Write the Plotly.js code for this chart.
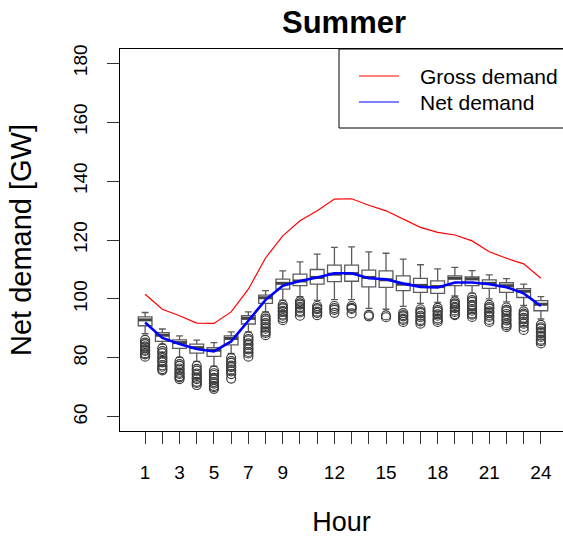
<!DOCTYPE html>
<html>
<head>
<meta charset="utf-8">
<script src="https://cdn.plot.ly/plotly-3.0.1.min.js"></script>
<style>
  html, body { margin: 0; padding: 0; background: #ffffff; }
  #chart { width: 563px; height: 538px; }
</style>
</head>
<body>
<div id="chart"></div>
<script>
// Hour of day
const hours = [1,2,3,4,5,6,7,8,9,10,11,12,13,14,15,16,17,18,19,20,21,22,23,24];

// Hourly labels shown on the x axis (others left blank)
const hourLabels = ['1','','3','','5','','7','','9','','','12','','','15','','','18','','','21','','','24'];

// Box statistics of summer net demand per hour [GW]
const upperWhisker = [95.4,89.8,87.5,86.0,85.2,88.8,95.6,102.8,109.5,112.6,115.2,117.5,117.7,116.0,115.5,113.5,111.6,110.2,110.7,109.6,108.2,106.9,105.0,100.8];
const q3           = [93.9,88.6,86.1,84.7,83.5,87.5,94.3,101.3,106.7,108.4,110.0,111.5,111.5,109.8,109.5,107.8,107.0,106.1,107.8,107.5,106.5,105.5,103.5,99.4];
const median       = [92.9,87.7,85.2,83.5,82.6,86.6,93.4,100.4,105.3,106.1,107.3,108.4,108.6,107.3,106.5,105.0,104.6,104.2,107.0,106.8,105.3,104.5,102.6,98.2];
const q1           = [90.9,85.6,83.2,81.6,80.5,84.4,91.5,98.5,103.3,104.5,105.0,105.9,106.0,104.1,103.9,102.8,102.2,101.9,104.5,104.5,103.6,102.2,100.5,96.0];
const lowerWhisker = [88.2,84.6,80.2,78.8,77.2,81.5,88.8,95.6,99.6,100.8,99.5,99.8,99.8,96.8,96.5,97.5,98.5,98.8,101.0,102.0,100.0,99.0,97.8,93.2];

// Outlying days per hour [GW]
const outliers = [
  [86.1,85.2,84.7,83.9,83.5,82.8,82.4,81.6,81.2,80.4],
  [83.3,82.3,81.6,80.5,79.9,79.0,78.5,77.5,77.0,76.2,75.8],
  [78.8,77.9,77.3,76.4,75.9,75.0,74.6,73.8,73.4,72.8],
  [77.3,76.3,75.7,74.7,74.2,73.3,72.8,71.9,71.5,70.8],
  [75.7,74.8,74.2,73.2,72.7,71.8,71.3,70.5,70.1,69.5],
  [79.9,78.9,78.3,77.4,76.9,76.0,75.4,74.5,73.0],
  [87.3,86.4,85.9,84.9,84.4,83.4,82.9,82.0,81.5,80.4],
  [94.1,93.3,92.7,91.8,91.3,90.4,89.9,89.0,88.5,87.7],
  [98.0,97.2,96.8,96.0,95.6,94.7,94.3,93.5,92.8],
  [99.2,98.5,98.1,97.3,96.8,95.9,95.4,94.3],
  [97.6,96.9,96.5,95.7,95.3,94.5],
  [97.6,96.9,96.3,95.3],
  [97.6,97.0,96.6,95.1],
  [94.6,94.1],
  [94.4,93.8],
  [95.2,94.5,94.1,93.3,92.9,92.2],
  [96.5,95.7,95.2,94.3,93.8,92.9,92.4,91.6],
  [97.0,96.2,95.7,94.8,94.3,93.4,92.9,92.2],
  [99.2,98.5,98.1,97.3,96.9,96.1,95.6,94.8,94.5],
  [100.5,99.6,99.0,98.0,97.4,96.5,96.0,95.1,94.7,93.9],
  [98.0,97.2,96.7,95.8,95.3,94.4,93.9,92.9,92.2],
  [97.1,96.3,95.8,94.9,94.3,93.3,92.7,91.7,91.1,90.5],
  [95.8,95.0,94.5,93.6,93.1,92.2,91.6,90.5,89.5],
  [91.2,90.4,89.9,89.0,88.5,87.6,87.1,86.2,85.7,84.9]
];

// Mean hourly demand curves [GW]
const grossDemand = [101.6,96.5,94.3,91.8,91.7,95.6,103.3,113.9,121.4,126.5,129.9,133.9,134.0,131.8,129.9,127.1,124.3,122.6,121.7,119.7,116.0,113.8,111.9,107.0];
const netDemand   = [92.0,86.8,84.7,83.0,82.2,85.6,92.6,99.7,104.5,106.1,107.3,108.7,108.7,107.0,106.7,105.2,104.1,103.9,105.6,105.6,105.0,104.0,101.9,97.6];

const FONT = 'Liberation Sans, Arial, Helvetica, sans-serif';
const BOX_HALF = 0.4;

// flatten outliers to x/y pairs
const outX = [], outY = [];
outliers.forEach((vals, i) => vals.forEach(v => { outX.push(hours[i]); outY.push(v); }));

// thick median bars
const medX = [], medY = [];
hours.forEach((h, i) => { medX.push(h - BOX_HALF, h + BOX_HALF, null); medY.push(median[i], median[i], null); });

const traces = [
  {
    type: 'box',
    x: hours,
    q1: q1, median: median, q3: q3,
    lowerfence: lowerWhisker, upperfence: upperWhisker,
    width: 2 * BOX_HALF,
    whiskerwidth: 0.5,
    boxpoints: false,
    fillcolor: '#ffffff',
    line: { color: '#5c5c5c', width: 1.3 },
    hoverinfo: 'skip',
    showlegend: false
  },
  {
    type: 'scatter', mode: 'markers',
    x: outX, y: outY,
    marker: { symbol: 'circle-open', size: 9, color: '#3c3c3c', line: { width: 1.2 } },
    hoverinfo: 'skip', showlegend: false
  },
  {
    type: 'scatter', mode: 'lines',
    x: medX, y: medY,
    line: { color: '#444444', width: 3 },
    hoverinfo: 'skip', showlegend: false
  },
  {
    type: 'scatter', mode: 'lines', name: 'Gross demand',
    x: hours, y: grossDemand,
    line: { color: '#ff0000', width: 1.2 },
    showlegend: false
  },
  {
    type: 'scatter', mode: 'lines', name: 'Net demand',
    x: hours, y: netDemand,
    line: { color: '#0000ff', width: 2.6 },
    showlegend: false
  }
];

// plot area spans px 120..563 horizontally, 49..431 vertically
const W = 563, H = 538, L = 120, T = 49, B = 107;
const plotW = W - L, plotH = H - T - B;
const px = x => (x - L) / plotW;
const py = y => (H - B - y) / plotH;

const layout = {
  width: W, height: H,
  margin: { l: L, r: 0, t: T, b: B, pad: 0 },
  paper_bgcolor: '#ffffff', plot_bgcolor: '#ffffff',
  font: { family: FONT, color: '#000000' },
  title: {
    text: '<b>Summer</b>',
    font: { family: FONT, size: 31, color: '#000000' },
    xref: 'paper', x: px(344), xanchor: 'center',
    yref: 'container', y: 1 - 22 / H, yanchor: 'middle'
  },
  xaxis: {
    range: [-0.46, 25.285],
    tickmode: 'array', tickvals: hours, ticktext: hourLabels,
    ticks: 'outside', ticklen: 12, tickwidth: 1, tickcolor: '#333333',
    ticklabelstandoff: 12,
    tickfont: { family: FONT, size: 19, color: '#000000' },
    showline: true, mirror: true, linecolor: '#000000', linewidth: 1,
    showgrid: false, zeroline: false,
    title: { text: 'Hour', font: { family: FONT, size: 27, color: '#000000' }, standoff: 30 }
  },
  yaxis: {
    range: [55.2, 184.8],
    tickmode: 'array', tickvals: [60, 80, 100, 120, 140, 160, 180],
    tickangle: -90,
    ticks: 'outside', ticklen: 12, tickwidth: 1, tickcolor: '#333333',
    ticklabelstandoff: 12,
    tickfont: { family: FONT, size: 19, color: '#000000' },
    showline: true, mirror: false, linecolor: '#000000', linewidth: 1,
    showgrid: false, zeroline: false,
    title: { text: 'Net demand [GW]', font: { family: FONT, size: 29, color: '#000000' }, standoff: 30 }
  },
  shapes: [
    { type: 'rect', xref: 'paper', yref: 'paper', x0: px(339), x1: 1.02, y0: py(128), y1: 1,
      line: { color: '#000000', width: 1 }, fillcolor: '#ffffff', layer: 'above' },
    { type: 'line', xref: 'paper', yref: 'paper', x0: px(359), x1: px(399), y0: py(76), y1: py(76),
      line: { color: '#ff0000', width: 1.2 }, layer: 'above' },
    { type: 'line', xref: 'paper', yref: 'paper', x0: px(359), x1: px(399), y0: py(102), y1: py(102),
      line: { color: '#0000ff', width: 1.2 }, layer: 'above' }
  ],
  annotations: [
    { xref: 'paper', yref: 'paper', x: px(418), y: py(76), xanchor: 'left', yanchor: 'middle',
      text: 'Gross demand', showarrow: false, font: { family: FONT, size: 21, color: '#000000' } },
    { xref: 'paper', yref: 'paper', x: px(418), y: py(102), xanchor: 'left', yanchor: 'middle',
      text: 'Net demand', showarrow: false, font: { family: FONT, size: 21, color: '#000000' } }
  ]
};

Plotly.newPlot('chart', traces, layout, { displayModeBar: false, staticPlot: true });
</script>
</body>
</html>
